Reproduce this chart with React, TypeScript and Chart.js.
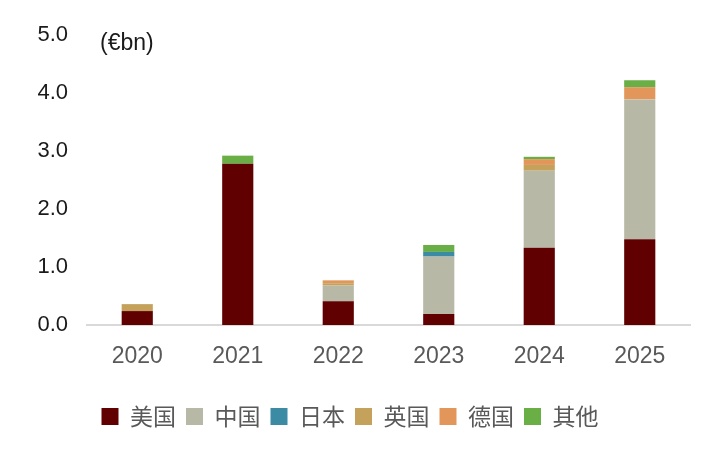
import React, { useEffect, useRef } from "react";
import { Chart, registerables } from "chart.js";

Chart.register(...registerables);

const categories = ["2020", "2021", "2022", "2023", "2024", "2025"];
const usValues = [0.24, 2.78, 0.41, 0.19, 1.33, 1.48];
const chinaValues = [0, 0, 0.27, 0.99, 1.33, 2.41];
const japanValues = [0, 0, 0, 0.08, 0, 0];
const ukValues = [0.12, 0, 0.04, 0, 0.1, 0];
const germanyValues = [0, 0, 0.05, 0, 0.1, 0.21];
const otherValues = [0, 0.14, 0, 0.12, 0.04, 0.12];
const seriesNames = ["美国", "中国", "日本", "英国", "德国", "其他"];
const seriesColors = ["#600000", "#b8b8a6", "#3a8ba3", "#c4a25c", "#e29659", "#6aae46"];
const yTicks = [0, 1, 2, 3, 4, 5];
const unitLabel = "(€bn)";

export default function App() {
  const ref = useRef<HTMLCanvasElement | null>(null);
  useEffect(() => {
    document.body.style.margin = "0";
    const canvas = ref.current;
    if (!canvas) return;
    const allValues = [usValues, chinaValues, japanValues, ukValues, germanyValues, otherValues];
    const unitPlugin = {
      id: "unitLabel",
      afterDraw(chart: any) {
        const ctx = chart.ctx;
        const y = chart.scales.y;
        ctx.save();
        ctx.font = "23px 'Liberation Sans', Arial, sans-serif";
        ctx.fillStyle = "#1a1a1a";
        ctx.textAlign = "left";
        ctx.textBaseline = "middle";
        ctx.fillText(unitLabel, 100, y.getPixelForValue(yTicks[yTicks.length - 1]) + 9);
        ctx.restore();
      },
    };
    const chart = new Chart(canvas, {
      type: "bar",
      data: {
        labels: categories,
        datasets: allValues.map((vals, i) => ({
          label: seriesNames[i],
          data: vals,
          backgroundColor: seriesColors[i],
          borderWidth: 0,
          barPercentage: 0.31,
          categoryPercentage: 1,
        })),
      },
      options: {
        animation: false,
        responsive: true,
        maintainAspectRatio: false,
        layout: { padding: { top: 35, left: 10, right: 19, bottom: 15 } },
        plugins: {
          tooltip: { enabled: false },
          legend: {
            position: "bottom",
            labels: {
              boxWidth: 17,
              boxHeight: 17,
              padding: 10,
              color: "#595959",
              font: { size: 23, family: "'Noto Sans CJK SC', sans-serif" },
            },
          },
        },
        scales: {
          x: {
            stacked: true,
            grid: { display: false, drawTicks: false },
            border: { display: true, color: "#d9d9d9", width: 2 },
            ticks: {
              color: "#595959",
              padding: 18,
              font: { size: 23, family: "'Liberation Sans', Arial, sans-serif" },
            },
            afterFit(scale: any) {
              scale.height = 70;
            },
          },
          y: {
            stacked: true,
            min: 0,
            max: 5,
            grid: { display: false, drawTicks: false },
            border: { display: false },
            afterBuildTicks(scale: any) {
              scale.ticks = yTicks.map((v) => ({ value: v }));
            },
            ticks: {
              color: "#1a1a1a",
              padding: 19,
              font: { size: 22, family: "'Liberation Sans', Arial, sans-serif" },
              callback: (v: any) => Number(v).toFixed(1),
            },
            afterFit(scale: any) {
              scale.width = 77;
            },
          },
        },
      },
      plugins: [unitPlugin],
    });
    return () => chart.destroy();
  }, []);
  return (
    <div style={{ position: "relative", width: 709, height: 453 }}>
      <canvas ref={ref} />
    </div>
  );
}
